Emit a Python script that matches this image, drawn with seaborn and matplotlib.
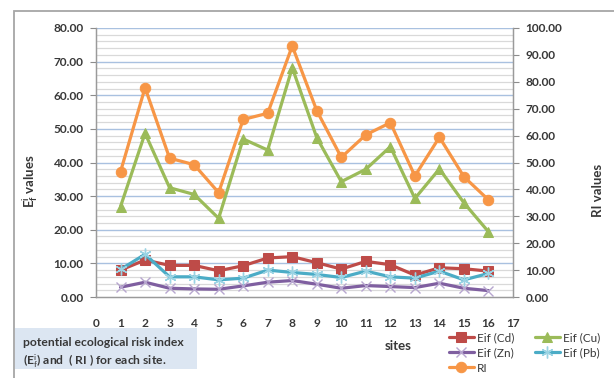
import matplotlib
matplotlib.use("Agg")
import matplotlib.pyplot as plt
import matplotlib.patches as mpatches
import numpy as np
import pandas as pd
import seaborn as sns

# Site numbers and index values
sites = list(range(1, 17))
eif_cd = [8.0, 11.0, 9.4, 9.4, 7.8, 9.3, 11.6, 12.0, 10.2, 8.3, 10.6, 9.6, 6.5, 8.7, 8.4, 7.7]
eif_cu = [26.9, 48.7, 32.5, 30.5, 23.4, 47.0, 43.7, 68.2, 47.4, 34.3, 38.0, 44.7, 29.3, 38.1, 28.0, 19.4]
eif_zn = [2.9, 4.4, 2.6, 2.4, 2.3, 3.3, 4.4, 4.9, 3.8, 2.6, 3.4, 3.1, 2.8, 4.1, 2.6, 1.9]
eif_pb = [8.2, 12.7, 6.0, 6.0, 5.1, 5.6, 8.0, 7.3, 6.7, 5.8, 7.7, 6.0, 5.6, 7.7, 5.1, 7.0]
ri = [46.6, 77.8, 51.6, 49.2, 38.8, 66.0, 68.3, 93.3, 69.3, 51.9, 60.3, 64.8, 45.0, 59.4, 44.7, 36.1]

left_ticks = np.arange(0, 81, 10)
right_ticks = np.arange(0, 101, 10)
x_ticks = list(range(0, 18))

df = pd.DataFrame({"site": sites, "Cd": eif_cd, "Cu": eif_cu, "Zn": eif_zn,
                   "Pb": eif_pb, "RI": ri})

sns.set_style("white")
plt.rcParams["font.family"] = ["Lato", "DejaVu Sans"]
plt.rcParams["mathtext.fontset"] = "custom"
plt.rcParams["mathtext.rm"] = "Lato"
plt.rcParams["mathtext.it"] = "Lato:italic"
plt.rcParams["mathtext.bf"] = "Lato:bold"
# tick-aligned grid is never wanted; the horizontal guides are drawn by hand
plt.rcParams["axes.grid"] = False
plt.rcParams["grid.linewidth"] = 0
plt.rcParams["grid.alpha"] = 0
plt.rcParams["xtick.major.size"] = 0
plt.rcParams["xtick.minor.size"] = 0

W, H = 614, 378
fig = plt.figure(figsize=(W / 100, H / 100), dpi=100)
fig.patch.set_facecolor("white")

x0, x1, y0, y1 = 96, 513, 28, 297
ax = fig.add_axes([x0 / W, 1 - y1 / H, (x1 - x0) / W, (y1 - y0) / H])
ax2 = ax.twinx()

txt = "#383838"
tick_fs = 8.6
styles = [
    ("Cd", "Eif (Cd)", "#BE4B48", dict(marker="s", ms=6.8, mfc="#BE4B48", mec="#BE4B48")),
    ("Cu", "Eif (Cu)", "#9BBB59", dict(marker="^", ms=7.5, mfc="#9BBB59", mec="#9BBB59")),
    ("Zn", "Eif (Zn)", "#7F5FA0", dict(marker="x", ms=7.5, mew=1.0, mec="#B7A6CF")),
    ("Pb", "Eif (Pb)", "#4BACC6", dict(marker=(6, 2, 0), ms=8.5, mew=1.0, mec="#9AD3E3")),
]
for col, lab, color, mk in styles:
    sns.lineplot(data=df, x="site", y=col, ax=ax, color=color, lw=2.3,
                 label=lab, zorder=3, **mk)
sns.lineplot(data=df, x="site", y="RI", ax=ax2, color="#F79646", lw=2.3,
             marker="o", ms=7.5, mfc="#F79646", mec="#F79646", label="RI", zorder=3)
for a in (ax, ax2):
    if a.get_legend() is not None:
        a.get_legend().remove()

# Axes ranges and ticks
ax.set_xlim(0, 17)
ax.set_ylim(0, 80)
ax2.set_ylim(0, 100)
ax.set_xticks(x_ticks)
ax.set_xticklabels([str(t) for t in x_ticks], fontsize=tick_fs, fontweight="bold", color=txt)
ax.set_yticks(left_ticks)
ax.set_yticklabels([f"{t:.2f}" for t in left_ticks], fontsize=tick_fs, fontweight="bold", color=txt)
ax2.set_yticks(right_ticks)
ax2.set_yticklabels([f"{t:.2f}" for t in right_ticks], fontsize=tick_fs, fontweight="bold", color=txt)
ax.tick_params(axis="x", which="both", length=0, pad=15, bottom=False, top=False,
               grid_alpha=0, grid_linewidth=0)
ax2.tick_params(axis="x", which="both", length=0, bottom=False, top=False,
                labelbottom=False, grid_alpha=0, grid_linewidth=0)
ax2.xaxis.set_visible(False)
ax.tick_params(axis="y", length=4, width=0.8, color="#8c8c8c", pad=5, left=True,
               grid_alpha=0, grid_linewidth=0)
ax2.tick_params(axis="y", length=4, width=0.8, color="#8c8c8c", pad=5, right=True,
                grid_alpha=0, grid_linewidth=0)
for a in (ax, ax2):
    a.grid(False, which="both", axis="both")

# Gridlines: light grey every 2 units, blue every 10
for v in np.arange(2, 80, 2):
    if v % 10:
        ax2.axhline(v * 100 / 80, color="#D9D9D9", lw=0.9, zorder=0)
for v in left_ticks[1:]:
    ax2.axhline(v * 100 / 80, color="#A9C1E0", lw=1.0, zorder=0.5)

for a in (ax, ax2):
    for s in ("left", "right", "bottom"):
        a.spines[s].set_color("#9a9a9a")
        a.spines[s].set_linewidth(0.9)
    a.spines["top"].set_visible(False)
    a.set_facecolor("none")
# draw the Eif series above the RI axes
ax.set_zorder(ax2.get_zorder() + 1)

ax.set_xlabel("sites", fontsize=9.5, fontweight="bold", color=txt)
ax.xaxis.set_label_coords((398 - x0) / (x1 - x0), (y1 - 340) / (y1 - y0))
ax.set_ylabel(r"$\mathbf{E^{i}_{f}}$ values", fontsize=9.5, fontweight="bold", color=txt)
ax.yaxis.set_label_coords((40 - x0) / (x1 - x0), (y1 - 181) / (y1 - y0))
ax2.set_ylabel("RI values", fontsize=9.5, fontweight="bold", color=txt)
ax2.yaxis.set_label_coords((592 - x0) / (x1 - x0), (y1 - 190) / (y1 - y0))

# Legend (row-major: Cd, Cu / Zn, Pb / RI)
h1, l1 = ax.get_legend_handles_labels()
h2, l2 = ax2.get_legend_handles_labels()
hd = dict(zip(l1 + l2, h1 + h2))
order = ["Eif (Cd)", "Eif (Zn)", "RI", "Eif (Cu)", "Eif (Pb)"]
fig.legend([hd[k] for k in order], order, loc="upper left",
           bbox_to_anchor=(449 / W, 1 - 332 / H), ncol=2, frameon=False,
           fontsize=8.5, handlelength=2.1, handletextpad=0.3, columnspacing=1.7,
           labelspacing=0.36, borderpad=0, borderaxespad=0, labelcolor=txt)

# Outer chart border
fig.add_artist(mpatches.Rectangle((14 / W, -0.1), 1.0, 1 - 11 / H + 0.1,
                                  transform=fig.transFigure, fill=False,
                                  ec="#A6A6A6", lw=1.3))

# Caption box
fig.add_artist(mpatches.Rectangle((15 / W, 1 - 369 / H), (197 - 15) / W, (369 - 328) / H,
                                  transform=fig.transFigure, fc="#DCE6F2", ec="none"))
fig.text(23 / W, 1 - 343 / H, "potential ecological risk index",
         fontsize=8.7, fontweight="bold", color=txt, va="center", ha="left")
fig.text(23 / W, 1 - 361 / H, r"(E$^{\mathrm{i}}_{\mathrm{f}}$) and  ( RI ) for each site.",
         fontsize=8.7, fontweight="bold", color=txt, va="center", ha="left")

fig.savefig("out.png", dpi=100)
